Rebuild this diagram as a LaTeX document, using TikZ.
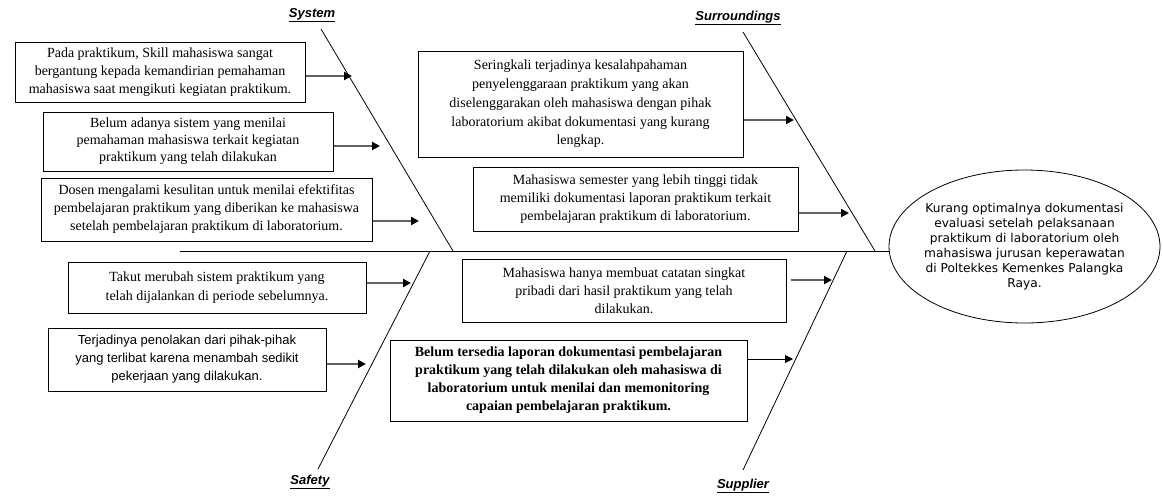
\documentclass[tikz,border=0pt]{standalone}
\usepackage{fontspec}
\setmainfont{Liberation Serif}
\newfontfamily\arialf{Liberation Sans}
\newfontfamily\tahomaf{DejaVu Sans}
\usetikzlibrary{arrows.meta,shapes.geometric}
\begin{document}
\begin{tikzpicture}[x=1pt,y=-1pt,
  bone/.style={draw=black,line width=0.8pt},
  cbox/.style={draw=black,line width=1pt,align=center,inner sep=0pt,
    font=\fontsize{14}{18}\selectfont},
  garrow/.style={draw=black!62,line width=2pt,-{Triangle[length=8pt,width=8pt,black]}},
  tarrow/.style={draw=black,line width=1pt,-{Triangle[length=8pt,width=8pt,black]}},
  cat/.style={font=\arialf\fontsize{13}{15}\selectfont\bfseries\itshape},
]
\useasboundingbox (0,0) rectangle (1163,499);
% effect
\node[ellipse,draw=black,line width=0.8pt,minimum width=271pt,minimum height=153pt,inner sep=0pt] (eff) at (1024.5,246.5) {};
\node[align=center,font=\tahomaf\fontsize{12.2}{15}\selectfont] (efft) at (1024.5,246.5)
 {Kurang optimalnya dokumentasi\\evaluasi setelah pelaksanaan\\praktikum di laboratorium oleh\\mahasiswa jurusan keperawatan\\di Poltekkes Kemenkes Palangka\\Raya.};
% spine and bones
\coordinate (sp0) at (180,251);
\coordinate (sysT) at (321,29);
\coordinate (sysB) at (453,251);
\coordinate (surT) at (743,32);
\coordinate (surB) at (875,251);
\coordinate (safB) at (318,469);
\coordinate (safT) at (430,251);
\coordinate (supB) at (743,470);
\coordinate (supT) at (847,251);
\draw[bone] (sp0) -- (sp0 -| eff.west);
\draw[bone] (sysT) -- (sysB);
\draw[bone] (surT) -- (surB);
\draw[bone] (safB) -- (safT);
\draw[bone] (supB) -- (supT);
% category labels
\node[cat] (lsys) at (312,15) {\underline{System}};
\node[cat] (lsur) at (738,18) {\underline{Surroundings}};
\node[cat] (lsaf) at (310,482) {\underline{Safety}};
\node[cat] (lsup) at (743,486) {\underline{Supplier}};
% cause boxes
\node[cbox,minimum width=290pt,minimum height=60pt] (A) at (160,72)
 {Pada praktikum, Skill mahasiswa sangat\\bergantung kepada kemandirian pemahaman\\mahasiswa saat mengikuti kegiatan praktikum.};
\node[cbox,minimum width=290pt,minimum height=59pt,font=\fontsize{14}{17}\selectfont] (B) at (188,141.5)
 {Belum adanya sistem yang menilai\\pemahaman mahasiswa terkait kegiatan\\praktikum yang telah dilakukan};
\node[cbox,minimum width=331pt,minimum height=63pt] (C) at (206.5,209.5)
 {Dosen mengalami kesulitan untuk menilai efektifitas\\pembelajaran praktikum yang diberikan ke mahasiswa\\setelah pembelajaran praktikum di laboratorium.};
\node[cbox,minimum width=325pt,minimum height=106pt,font=\fontsize{14}{18.8}\selectfont] (D) at (580.5,104)
 {Seringkali terjadinya kesalahpahaman\\penyelenggaraan praktikum yang akan\\diselenggarakan oleh mahasiswa dengan pihak\\laboratorium akibat dokumentasi yang kurang\\lengkap.};
\node[cbox,minimum width=325pt,minimum height=64pt] (E) at (635.5,199)
 {Mahasiswa semester yang lebih tinggi tidak\\memiliki dokumentasi laporan praktikum terkait\\pembelajaran praktikum di laboratorium.};
\node[cbox,minimum width=298pt,minimum height=51pt,font=\fontsize{14}{19}\selectfont] (F) at (217,287.5)
 {Takut merubah sistem praktikum yang\\telah dijalankan di periode sebelumnya.};
\node[cbox,minimum width=278pt,minimum height=63pt,font=\arialf\fontsize{13}{18}\selectfont] (G) at (187,359.5)
 {Terjadinya penolakan dari pihak-pihak\\yang terlibat karena menambah sedikit\\pekerjaan yang dilakukan.};
\node[cbox,minimum width=324pt,minimum height=63pt] (H) at (624,290.5)
 {Mahasiswa hanya membuat catatan singkat\\pribadi dari hasil praktikum yang telah\\dilakukan.};
\node[cbox,minimum width=357pt,minimum height=81pt,font=\fontsize{14}{18}\selectfont\bfseries] (I) at (568.5,380.5)
 {Belum tersedia laporan dokumentasi pembelajaran\\praktikum yang telah dilakukan oleh mahasiswa di\\laboratorium untuk menilai dan memonitoring\\capaian pembelajaran praktikum.};
% arrow targets
\coordinate (a1) at (352,76);
\coordinate (b1) at (380,146);
\coordinate (c1) at (419,221);
\coordinate (d1) at (794,120);
\coordinate (e1) at (849,213);
\coordinate (f1) at (411,283);
\coordinate (g1) at (366,364);
\coordinate (h1) at (832,280);
\coordinate (i1) at (793,359);
\draw[garrow] (A.east |- a1) -- (a1);
\draw[garrow] (B.east |- b1) -- (b1);
\draw[garrow] (C.east |- c1) -- (c1);
\draw[garrow] (D.east |- d1) -- (d1);
\draw[garrow] (E.east |- e1) -- (e1);
\draw[garrow] (F.east |- f1) -- (f1);
\draw[garrow,line width=2.5pt] (G.east |- g1) -- (g1);
\draw[garrow] ([xshift=4pt]H.east |- h1) -- (h1);
\draw[tarrow] (I.east |- i1) -- (i1);
\end{tikzpicture}
\end{document}
